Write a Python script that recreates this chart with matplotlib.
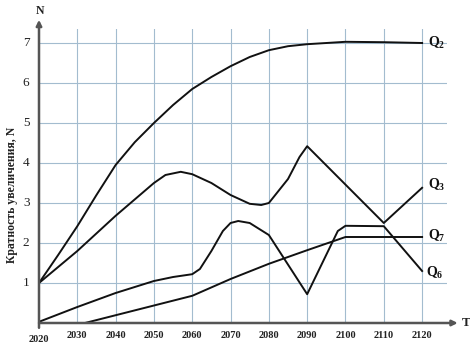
import matplotlib
matplotlib.use("Agg")
import matplotlib.pyplot as plt

plt.rcParams['font.family'] = ['Liberation Serif', 'DejaVu Serif']
plt.rcParams['mathtext.fontset'] = 'custom'
plt.rcParams['mathtext.rm'] = 'Liberation Serif:bold'
plt.rcParams['mathtext.it'] = 'Liberation Serif:bold'
plt.rcParams['mathtext.bf'] = 'Liberation Serif:bold'

# Scenario curves: (year, multiplication factor N)
q2_years = [2020, 2025, 2030, 2035, 2040, 2045, 2050, 2055, 2060, 2065, 2070, 2075, 2080, 2085, 2090, 2095, 2100, 2110, 2120]
q2_vals = [1.0, 1.7, 2.42, 3.2, 3.95, 4.52, 5.0, 5.45, 5.85, 6.15, 6.42, 6.65, 6.82, 6.92, 6.97, 7.0, 7.03, 7.02, 7.0]

q3_years = [2020, 2030, 2040, 2050, 2053, 2057, 2060, 2065, 2070, 2075, 2078, 2080, 2085, 2088, 2090, 2110, 2120]
q3_vals = [1.0, 1.8, 2.68, 3.5, 3.7, 3.78, 3.72, 3.5, 3.2, 2.98, 2.95, 3.0, 3.6, 4.15, 4.42, 2.5, 3.38]

q6_years = [2020, 2030, 2040, 2050, 2055, 2060, 2062, 2065, 2068, 2070, 2072, 2075, 2080, 2090, 2098, 2100, 2110, 2120]
q6_vals = [0.03, 0.4, 0.75, 1.05, 1.15, 1.22, 1.35, 1.8, 2.3, 2.5, 2.55, 2.5, 2.2, 0.72, 2.3, 2.43, 2.42, 1.3]

q7_years = [2032, 2060, 2070, 2080, 2090, 2100, 2120]
q7_vals = [0.0, 0.68, 1.1, 1.48, 1.82, 2.15, 2.15]

x_ticks = [2030, 2040, 2050, 2060, 2070, 2080, 2090, 2100, 2110, 2120]
y_ticks = [1, 2, 3, 4, 5, 6, 7]

W, H = 470, 345
fig = plt.figure(figsize=(W / 100, H / 100), dpi=100)
ax = fig.add_axes([39 / W, (H - 323) / H, 408 / W, 294 / H])
ax.set_xlim(2020, 2126.5)
ax.set_ylim(0, 7.35)
for s in ax.spines.values():
    s.set_visible(False)
ax.set_xticks([])
ax.set_yticks([])

grid_c = '#a3bccf'
for x in x_ticks:
    ax.axvline(x, color=grid_c, lw=0.8, zorder=1)
for y in y_ticks:
    ax.axhline(y, color=grid_c, lw=0.8, zorder=1)

line_kw = dict(color='#111111', lw=1.4, zorder=3, solid_joinstyle='round')
ax.plot(q2_years, q2_vals, **line_kw)
ax.plot(q3_years, q3_vals, **line_kw)
ax.plot(q6_years, q6_vals, **line_kw)
ax.plot(q7_years, q7_vals, **line_kw)

# Axes with arrows
axis_c = '#555555'
ax.annotate('', xy=(2020, 7.58), xytext=(2020, -0.12),
            arrowprops=dict(arrowstyle='-|>', color=axis_c, lw=1.8,
                            mutation_scale=8, shrinkA=0, shrinkB=0),
            annotation_clip=False, zorder=4)
ax.annotate('', xy=(2129.3, 0), xytext=(2020, 0),
            arrowprops=dict(arrowstyle='-|>', color=axis_c, lw=1.8,
                            mutation_scale=8, shrinkA=0, shrinkB=0),
            annotation_clip=False, zorder=4)

for y in y_ticks:
    ax.text(2017.5, y, str(y), ha='right', va='center', fontsize=9.5, color='#222222')
for x in x_ticks:
    ax.text(x, -0.2, str(x), ha='center', va='top', fontsize=7.5,
            fontweight='bold', color='#222222')
ax.text(2020, -0.42, '2020', ha='center', va='center', fontsize=7.5,
        fontweight='bold', color='#222222')

ax.text(2020.3, 7.8, 'N', ha='center', va='center', fontsize=8.5,
        fontweight='bold', color='#222222')
ax.text(2130.3, 0, 'T', ha='left', va='center', fontsize=9.5,
        fontweight='bold', color='#222222')

fig.text(12 / W, 1 - 195 / H, 'Кратность увеличения, N', rotation=90,
         ha='center', va='center', fontsize=8.5, fontweight='bold', color='#222222')

lab_kw = dict(fontsize=10, color='#111111', va='center', ha='left')
ax.text(2121.5, 7.0, r'$\mathrm{Q}_{2}$', **lab_kw)
ax.text(2121.5, 3.45, r'$\mathrm{Q}_{3}$', **lab_kw)
ax.text(2121.5, 2.18, r'$\mathrm{Q}_{7}$', **lab_kw)
ax.text(2121.0, 1.25, r'$\mathrm{Q}_{6}$', **lab_kw)

fig.savefig('out.png', dpi=100)
